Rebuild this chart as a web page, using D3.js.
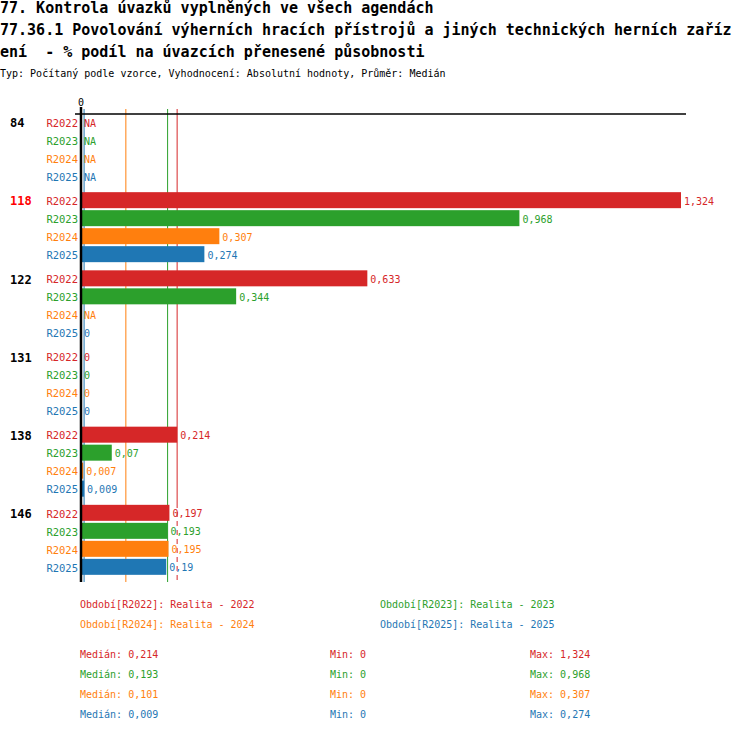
<!DOCTYPE html>
<html>
<head>
<meta charset="utf-8">
<script src="https://cdn.jsdelivr.net/npm/d3@7"></script>
<style>
  body { margin: 0; background: #fff; }
  text { font-family: "DejaVu Sans Mono", monospace; white-space: pre; }
</style>
</head>
<body>
<div id="chart"></div>
<script>
const titleLines = [
  "77. Kontrola úvazků vyplněných ve všech agendách",
  "77.36.1 Povolování výherních hracích přístrojů a jiných technických herních zaříz",
  "ení  - % podíl na úvazcích přenesené působnosti"
];
const subtitle = "Typ: Počítaný podle vzorce, Vyhodnocení: Absolutní hodnoty, Průměr: Medián";

const groups = ["84", "118", "122", "131", "138", "146"];
const highlightGroup = "118";
const series = ["R2022", "R2023", "R2024", "R2025"];
const seriesNames = ["Realita - 2022", "Realita - 2023", "Realita - 2024", "Realita - 2025"];
const colors = ["#d62728", "#2ca02c", "#ff7f0e", "#1f77b4"];

// null = NA
const values2022 = [null, 1.324, 0.633, 0, 0.214, 0.197];
const values2023 = [null, 0.968, 0.344, 0, 0.07, 0.193];
const values2024 = [null, 0.307, null, 0, 0.007, 0.195];
const values2025 = [null, 0.274, 0, 0, 0.009, 0.19];
const seriesValues = [values2022, values2023, values2024, values2025];

const medians = [0.214, 0.193, 0.101, 0.009];
const mins = [0, 0, 0, 0];
const maxs = [1.324, 0.968, 0.307, 0.274];

const width = 750, height = 732;
const fmt = v => v === null ? "NA" : String(v).replace(".", ",");

const svg = d3.select("#chart").append("svg")
  .attr("width", width)
  .attr("height", height);

// titles
svg.append("g").selectAll("text")
  .data(titleLines)
  .join("text")
  .attr("x", 0)
  .attr("y", (d, i) => 13 + i * 22)
  .attr("font-size", 15)
  .attr("font-weight", "bold")
  .attr("xml:space", "preserve")
  .text(d => d);

svg.append("text")
  .attr("x", 0).attr("y", 77)
  .attr("font-size", 10)
  .text(subtitle);

const x = d3.scaleLinear().domain([0, 1.324]).range([80, 681]);
const y = d3.scaleBand().domain(groups).range([113, 582]);
const yRow = d3.scaleBand().domain(series).range([0, 72]);
const barH = 16;

const rows = [];
groups.forEach((g, gi) => {
  series.forEach((s, si) => {
    rows.push({ group: g, series: s, si, value: seriesValues[si][gi] });
  });
});
const rowY = d => y(d.group) + yRow(d.series) + yRow.bandwidth() / 2;

// median lines (behind bars)
const medG = svg.append("g");
medians.forEach((m, i) => {
  if (i === 0) {
    medG.append("line")
      .attr("x1", x(m)).attr("x2", x(m))
      .attr("y1", 109).attr("y2", 503)
      .attr("stroke", colors[i]);
    medG.append("line")
      .attr("x1", x(m)).attr("x2", x(m))
      .attr("y1", 503).attr("y2", 582)
      .attr("stroke", colors[i])
      .attr("stroke-dasharray", "5,4");
  } else {
    medG.append("line")
      .attr("x1", x(m)).attr("x2", x(m))
      .attr("y1", 109).attr("y2", 582)
      .attr("stroke", colors[i]);
  }
});

// top line
svg.append("line")
  .attr("x1", 75).attr("x2", 686)
  .attr("y1", 114).attr("y2", 114)
  .attr("stroke", "#000").attr("stroke-width", 1.5);

// bars
svg.append("g").selectAll("rect")
  .data(rows.filter(d => d.value !== null && d.value > 0))
  .join("rect")
  .attr("x", x(0) + 2)
  .attr("y", d => rowY(d) - barH / 2)
  .attr("width", d => x(d.value) - x(0) - 2)
  .attr("height", barH)
  .attr("fill", d => colors[d.si]);

// value labels
svg.append("g").selectAll("text")
  .data(rows)
  .join("text")
  .attr("x", d => d.value ? x(d.value) + 3 : x(0) + 4)
  .attr("y", d => rowY(d) + 1)
  .attr("dy", "0.35em")
  .attr("font-size", 10)
  .attr("fill", d => colors[d.si])
  .text(d => fmt(d.value));

// series labels
svg.append("g").selectAll("text")
  .data(rows)
  .join("text")
  .attr("x", 78)
  .attr("y", d => rowY(d) + 1)
  .attr("dy", "0.35em")
  .attr("text-anchor", "end")
  .attr("font-size", 10.5)
  .attr("fill", d => colors[d.si])
  .text(d => d.series);

// group labels
svg.append("g").selectAll("text")
  .data(groups)
  .join("text")
  .attr("x", 10)
  .attr("y", g => y(g) + yRow.bandwidth() / 2 + 1)
  .attr("dy", "0.35em")
  .attr("font-size", 12)
  .attr("font-weight", "bold")
  .attr("fill", g => g === highlightGroup ? "#ff0000" : "#000")
  .text(g => g);

// zero axis
svg.append("line")
  .attr("x1", x(0) + 1).attr("x2", x(0) + 1)
  .attr("y1", 107).attr("y2", 582)
  .attr("stroke", "#000").attr("stroke-width", 2.5);

svg.append("text")
  .attr("x", x(0) + 1).attr("y", 106)
  .attr("text-anchor", "middle")
  .attr("font-size", 10)
  .text("0");

// legend
svg.append("g").selectAll("text")
  .data(series)
  .join("text")
  .attr("x", (d, i) => i % 2 === 0 ? 80 : 380)
  .attr("y", (d, i) => 604 + Math.floor(i / 2) * 20)
  .attr("dy", "0.35em")
  .attr("font-size", 10)
  .attr("fill", (d, i) => colors[i])
  .text((d, i) => `Období[${d}]: ${seriesNames[i]}`);

// stats
const stats = svg.append("g");
series.forEach((s, i) => {
  const yy = 654 + i * 20;
  [[80, "Medián: " + fmt(medians[i])], [330, "Min: " + fmt(mins[i])], [530, "Max: " + fmt(maxs[i])]]
    .forEach(([xx, t]) => {
      stats.append("text")
        .attr("x", xx).attr("y", yy)
        .attr("dy", "0.35em")
        .attr("font-size", 10)
        .attr("fill", colors[i])
        .text(t);
    });
});
</script>
</body>
</html>
